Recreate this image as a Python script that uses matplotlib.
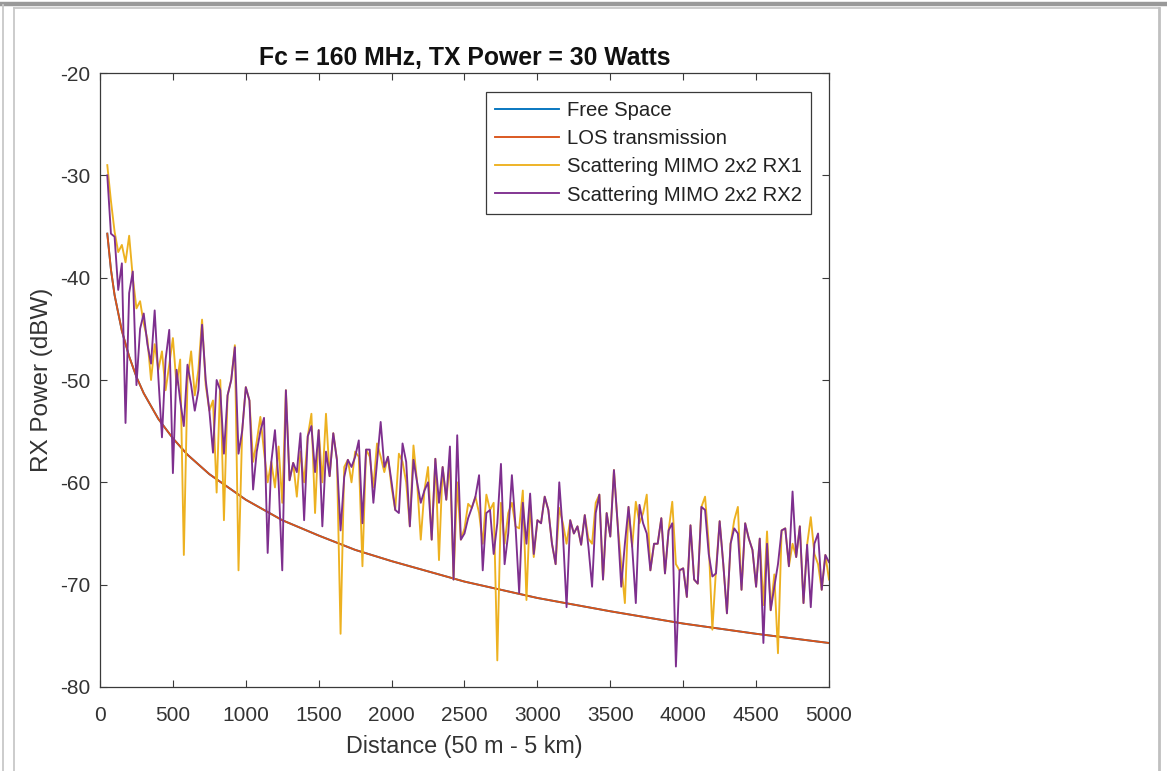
import matplotlib
matplotlib.use("Agg")
import matplotlib.pyplot as plt
from matplotlib.lines import Line2D
import numpy as np

plt.rcParams['font.family'] = ['Liberation Sans', 'DejaVu Sans']
plt.rcParams['axes.unicode_minus'] = False

title = "Fc = 160 MHz, TX Power = 30 Watts"
xlabel = "Distance (50 m - 5 km)"
ylabel = "RX Power (dBW)"
series_names = ["Free Space", "LOS transmission",
                "Scattering MIMO 2x2 RX1", "Scattering MIMO 2x2 RX2"]
xticks = [0, 500, 1000, 1500, 2000, 2500, 3000, 3500, 4000, 4500, 5000]
yticks = [-80, -70, -60, -50, -40, -30, -20]

# smooth path-loss curves
los_dist = [50, 75, 100, 150, 200, 250, 300, 400, 500, 600, 750, 1000, 1250,
            1500, 1750, 2000, 2500, 3000, 3500, 4000, 4500, 5000]
los_power = [-35.7, -39.2, -41.7, -45.2, -47.7, -49.7, -51.3, -53.8, -55.7,
             -57.3, -59.2, -61.7, -63.7, -65.2, -66.6, -67.7, -69.7, -71.3,
             -72.6, -73.8, -74.8, -75.7]
free_power = los_power

# scattering channels, one sample every 25 m from 50 m to 5000 m
dist_start, dist_step = 50, 25
rx1 = [-29.0, -32.5, -35.5, -37.5, -36.8, -38.5, -35.9, -40.0, -43.0, -42.3,
       -44.5, -46.0, -50.0, -46.5, -49.0, -47.2, -51.0, -48.5, -45.9, -50.5,
       -48.0, -67.1, -50.0, -47.2, -51.5, -49.0, -44.1, -50.5, -53.0, -52.0,
       -61.0, -50.0, -63.7, -51.5, -50.0, -46.6, -68.6, -55.0, -50.7, -52.0,
       -58.0, -56.0, -53.6, -57.0, -60.0, -58.0, -60.5, -56.5, -62.0, -51.0,
       -59.8, -58.1, -61.4, -57.0, -60.0, -55.5, -53.3, -63.0, -54.9, -60.0,
       -53.3, -59.4, -55.2, -57.8, -74.8, -58.5, -57.8, -60.0, -57.0, -57.5,
       -68.2, -56.8, -57.5, -60.5, -56.2, -57.5, -59.0, -57.5, -60.5, -62.7,
       -57.2, -58.0, -60.0, -64.3, -56.4, -60.0, -65.6, -60.8, -58.5, -65.6,
       -57.7, -67.6, -58.5, -61.7, -58.0, -69.5, -60.0, -65.6, -64.5, -62.1,
       -62.5, -61.4, -63.0, -66.0, -61.2, -62.7, -62.0, -77.4, -62.0, -66.0,
       -63.0, -62.0, -64.3, -64.5, -60.8, -71.5, -62.1, -67.3, -63.7, -64.0,
       -61.4, -62.7, -66.0, -68.0, -62.5, -64.0, -66.0, -63.7, -65.0, -64.3,
       -66.1, -63.2, -65.5, -66.0, -62.0, -61.2, -69.5, -63.0, -65.3, -58.8,
       -64.0, -68.0, -71.8, -62.4, -66.3, -61.9, -64.0, -63.0, -61.2, -68.6,
       -66.0, -66.0, -63.5, -68.9, -64.7, -61.9, -68.0, -68.6, -68.4, -71.2,
       -64.2, -69.5, -69.9, -62.4, -61.4, -66.0, -74.4, -68.5, -63.8, -68.0,
       -72.8, -66.0, -63.7, -62.4, -70.5, -64.0, -65.5, -66.6, -70.2, -65.5,
       -72.0, -64.8, -72.5, -69.0, -76.7, -64.7, -64.5, -68.2, -66.0, -67.3,
       -64.3, -71.8, -66.1, -63.4, -67.0, -68.0, -70.5, -67.1, -69.5]
rx2 = [-30.0, -35.7, -36.0, -41.2, -38.6, -54.2, -41.5, -39.4, -50.5, -45.0,
       -43.5, -46.5, -48.4, -43.2, -49.7, -55.6, -48.0, -45.1, -59.1, -49.0,
       -52.0, -54.5, -48.5, -50.5, -53.0, -51.0, -44.6, -50.0, -53.0, -57.1,
       -50.0, -51.0, -57.2, -51.5, -50.0, -46.8, -57.2, -55.0, -50.7, -52.0,
       -60.7, -57.0, -55.0, -53.7, -66.9, -58.0, -54.9, -60.0, -68.6, -51.0,
       -59.8, -58.1, -59.0, -55.2, -63.7, -55.5, -54.5, -59.0, -54.9, -64.3,
       -57.0, -59.4, -55.2, -57.8, -64.7, -59.5, -57.8, -58.5, -57.5, -55.9,
       -64.0, -56.8, -56.8, -62.0, -58.0, -54.1, -58.5, -57.5, -60.0, -62.7,
       -63.0, -56.2, -58.0, -64.3, -57.8, -60.0, -62.0, -60.8, -60.0, -65.6,
       -57.7, -62.0, -58.5, -61.7, -56.5, -69.5, -55.4, -65.6, -65.0, -63.5,
       -62.5, -61.4, -59.3, -68.6, -63.0, -62.7, -67.0, -64.0, -58.2, -68.0,
       -65.0, -59.3, -64.3, -70.8, -62.0, -66.0, -61.1, -67.0, -63.7, -64.0,
       -61.4, -62.7, -66.0, -68.0, -60.0, -65.0, -72.2, -63.7, -65.0, -64.3,
       -66.1, -63.2, -66.3, -70.2, -63.0, -61.2, -69.5, -63.0, -65.3, -58.8,
       -64.0, -70.2, -66.0, -62.4, -66.3, -71.8, -62.2, -64.0, -65.0, -68.6,
       -66.0, -66.0, -63.5, -68.9, -64.7, -64.0, -78.0, -68.6, -68.4, -71.2,
       -64.2, -69.5, -69.9, -62.4, -62.7, -67.0, -69.2, -68.9, -63.8, -68.0,
       -72.8, -66.0, -64.5, -65.0, -70.5, -64.0, -65.5, -66.6, -70.2, -65.5,
       -75.7, -66.0, -72.5, -70.2, -68.0, -64.7, -64.5, -68.2, -60.9, -67.3,
       -64.3, -71.8, -66.1, -72.2, -66.0, -65.0, -70.5, -67.1, -67.8]

dist = dist_start + dist_step * np.arange(len(rx1))

colors = ['#0072BD', '#D95319', '#EDB120', '#7E2F8E']
axcol = '#3a3a3a'

fig = plt.figure(figsize=(11.67, 7.71), dpi=100)
# screenshot frame
fig.add_artist(Line2D([0, 1], [1 - 3.5/771]*2, color='#999999', lw=3.2,
                      transform=fig.transFigure))
fig.add_artist(Line2D([3/1167]*2, [0, 1 - 5/771], color='#c8c8c8', lw=1.3,
                      transform=fig.transFigure))
fig.add_artist(Line2D([13.5/1167]*2, [0, 1 - 8/771], color='#c8c8c8', lw=1.3,
                      transform=fig.transFigure))
fig.add_artist(Line2D([13.5/1167, 1159/1167], [1 - 8/771]*2, color='#c8c8c8',
                      lw=1.3, transform=fig.transFigure))
fig.add_artist(Line2D([1159/1167]*2, [0, 1 - 8/771], color='#c0c0c0', lw=2.0,
                      transform=fig.transFigure))

ax = fig.add_axes([100/1167, 84/771, 729/1167, 614/771])
lw = 1.35
ax.plot(los_dist, free_power, color=colors[0], lw=lw, label=series_names[0])
ax.plot(los_dist, los_power, color=colors[1], lw=lw, label=series_names[1])
ax.plot(dist, rx1, color=colors[2], lw=lw, label=series_names[2])
ax.plot(dist, rx2, color=colors[3], lw=lw, label=series_names[3])

ax.set_xlim(0, 5000)
ax.set_ylim(-80, -20)
ax.set_xticks(xticks)
ax.set_yticks(yticks)
ax.tick_params(direction='in', top=True, right=True, length=5, width=0.8,
               colors=axcol, labelsize=15, labelcolor='#333333')
ax.tick_params(axis='x', pad=14)
ax.tick_params(axis='y', pad=7)
for s in ax.spines.values():
    s.set_color(axcol)
    s.set_linewidth(0.9)

ax.set_title(title, fontsize=17.8, fontweight='bold', color='#111111', pad=6)
ax.set_xlabel(xlabel, fontsize=16.8, color='#333333', labelpad=7)
ax.set_ylabel(ylabel, fontsize=17.5, color='#333333', labelpad=5)

leg = ax.legend(loc='upper right', bbox_to_anchor=(0.975, 0.969),
                borderaxespad=0, fontsize=14.6, handlelength=3.15,
                handletextpad=0.4, labelspacing=0.45, borderpad=0.45,
                fancybox=False, framealpha=1, edgecolor=axcol)
leg.get_frame().set_linewidth(0.9)
for t in leg.get_texts():
    t.set_color('#222222')

fig.savefig('out.png', dpi=100)
